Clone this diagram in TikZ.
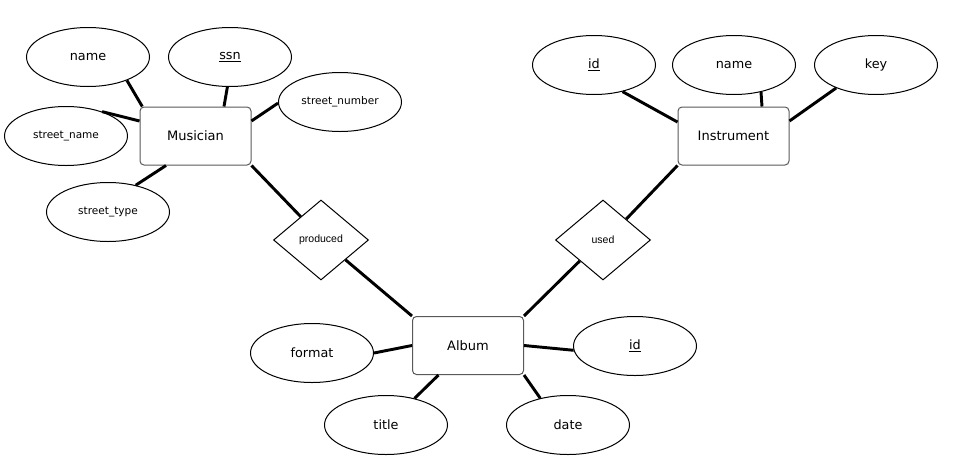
\documentclass[tikz,border=0pt]{standalone}
\usepackage{fontspec}
\setmainfont{DejaVu Sans}
\newfontfamily\arialf{Liberation Sans}
\usetikzlibrary{shapes.geometric}
\tikzset{
  attr/.style={ellipse, draw=black, line width=0.75pt, fill=white, inner sep=0pt,
    minimum width=123*0.75pt, minimum height=59*0.75pt, font=\fontsize{9.6}{11}\selectfont},
  sattr/.style={attr, font=\fontsize{7.9}{9}\selectfont},
  entity/.style={rectangle, rounded corners=3pt, draw=black!65, line width=0.75pt, fill=white,
    inner sep=0pt, minimum width=111*0.75pt, minimum height=58*0.75pt, font=\fontsize{9.75}{11}\selectfont},
  rel/.style={diamond, draw=black, line width=0.75pt, fill=white, inner sep=0pt, aspect=1.19,
    minimum width=95*0.75pt, minimum height=80*0.75pt, font=\arialf\fontsize{7.9}{9}\selectfont},
  conn/.style={line width=2.2pt, black}
}
\begin{document}
\begin{tikzpicture}[x=0.75pt,y=-0.75pt]
\useasboundingbox (0,0) rectangle (956,468);
% entities
\node[entity] (mus) at (195.5,136) {Musician};
\node[entity] (ins) at (733.5,136) {Instrument};
\node[entity] (alb) at (468,345.5) {Album};
% relationships
\node[rel] (prod) at (321,240) {produced};
\node[rel] (used) at (603,240) {used};
% Musician attributes
\node[attr] (mname) at (88,57) {name};
\node[attr] (ssn) at (230,57) {\underline{ssn}};
\node[sattr] (snum) at (340,102) {street\_number};
\node[sattr] (sname) at (66,136) {street\_name};
\node[sattr] (stype) at (108,212) {street\_type};
% Instrument attributes
\node[attr] (iid) at (594,65) {\underline{id}};
\node[attr] (iname) at (734,65) {name};
\node[attr] (key) at (876,65) {key};
% Album attributes
\node[attr] (format) at (312,353) {format};
\node[attr] (aid) at (635,346) {\underline{id}};
\node[attr] (title) at (386,425) {title};
\node[attr] (date) at (568,425) {date};
% connectors
\draw[conn] (mname.-31) -- (mus.151.5);
\draw[conn] (ssn.-95) -- (mus.46.5);
\draw[conn] (snum.181) -- (mus.15);
\draw[conn] (sname.34) -- (mus.165);
\draw[conn] (stype.44) -- (mus.225.5);
\draw[conn] (mus.south east) -- (prod.131);
\draw[conn] (prod.-39) -- (alb.north west);
\draw[conn] (alb.north east) -- (used.222.6);
\draw[conn] (used.42.5) -- (ins.south west);
\draw[conn] (iid.-43) -- (ins.166);
\draw[conn] (iname.-45) -- (ins.46.5);
\draw[conn] (key.210) -- (ins.15);
\draw[conn] (format.0) -- (alb.180);
\draw[conn] (aid.184) -- (alb.0);
\draw[conn] (title.43) -- (alb.225.5);
\draw[conn] (date.136) -- (alb.south east);
\end{tikzpicture}
\end{document}
